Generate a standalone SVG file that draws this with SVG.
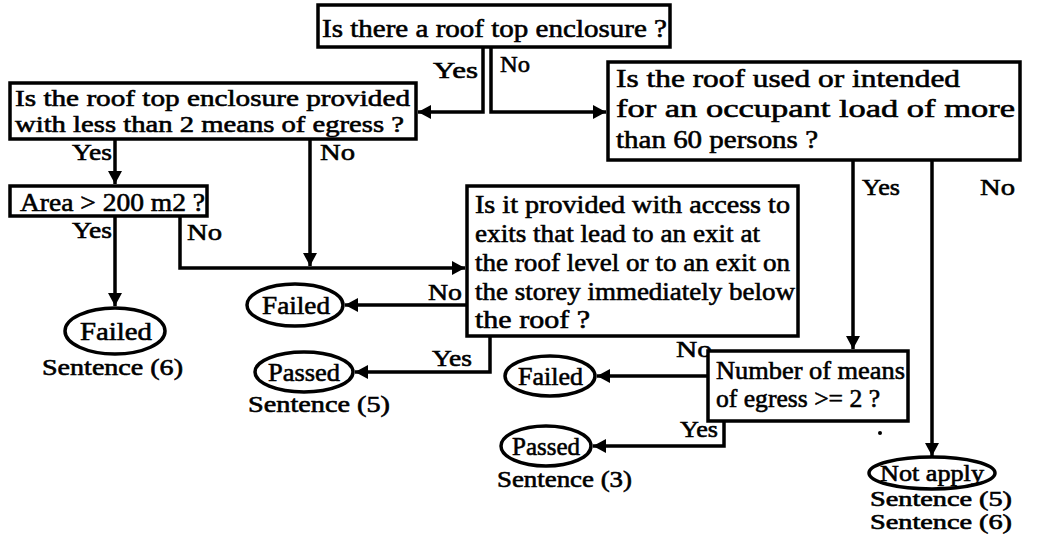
<svg xmlns="http://www.w3.org/2000/svg" width="1043" height="535" viewBox="0 0 1043 535">
  <style>
    .box { fill: #fff; stroke: #000; stroke-width: 3.5; }
    .term { fill: #fff; stroke: #000; stroke-width: 3.5; }
    .t { font-family: "Liberation Serif", "Times New Roman", serif; font-size: 26px; fill: #000; stroke: #000; stroke-width: 0.6; }
    .lbl { font-family: "Liberation Serif", "Times New Roman", serif; font-size: 24px; fill: #000; stroke: #000; stroke-width: 0.6; }
    .sen { font-family: "Liberation Serif", "Times New Roman", serif; font-size: 23px; fill: #000; stroke: #000; stroke-width: 0.6; }
    .wire { fill: none; stroke: #000; stroke-width: 3.5; marker-end: url(#arrow); }
  </style>
  <defs>
    <marker id="arrow" markerUnits="userSpaceOnUse" markerWidth="14" markerHeight="14" refX="13" refY="7" orient="auto">
      <path d="M0,0 L13,7 L0,14 z" fill="#000"/>
    </marker>
  </defs>

  <rect width="1043" height="535" fill="#fff"/>

  <!-- connectors -->
  <g id="connectors">
    <path class="wire" d="M483,47 V112 H418"/>
    <path class="wire" d="M491,47 V112 H606"/>
    <path class="wire" d="M115,139 V184"/>
    <path class="wire" d="M310,139 V266"/>
    <path class="wire" d="M115,216 V306"/>
    <path class="wire" d="M180,216 V268 H465"/>
    <path class="wire" d="M467,305 H345"/>
    <path class="wire" d="M490,336 V372 H355"/>
    <path class="wire" d="M853,160 V349"/>
    <path class="wire" d="M932,160 V456"/>
    <path class="wire" d="M708,376 H597"/>
    <path class="wire" d="M724,421 V446 H593"/>

    <text class="lbl" x="433" y="78" textLength="45" lengthAdjust="spacingAndGlyphs">Yes</text>
    <text class="lbl" x="500" y="72" textLength="30" lengthAdjust="spacingAndGlyphs">No</text>
    <text class="lbl" x="72" y="160" textLength="40" lengthAdjust="spacingAndGlyphs">Yes</text>
    <text class="lbl" x="320" y="160" textLength="35" lengthAdjust="spacingAndGlyphs">No</text>
    <text class="lbl" x="72" y="238" textLength="40" lengthAdjust="spacingAndGlyphs">Yes</text>
    <text class="lbl" x="187" y="240" textLength="35" lengthAdjust="spacingAndGlyphs">No</text>
    <text class="lbl" x="428" y="300" textLength="34" lengthAdjust="spacingAndGlyphs">No</text>
    <text class="lbl" x="432" y="366" textLength="40" lengthAdjust="spacingAndGlyphs">Yes</text>
    <text class="lbl" x="862" y="195" textLength="38" lengthAdjust="spacingAndGlyphs">Yes</text>
    <text class="lbl" x="980" y="195" textLength="35" lengthAdjust="spacingAndGlyphs">No</text>
    <text class="lbl" x="676" y="357" textLength="36" lengthAdjust="spacingAndGlyphs">No</text>
    <text class="lbl" x="680" y="437" textLength="38" lengthAdjust="spacingAndGlyphs">Yes</text>
  </g>

  <!-- decision: roof top enclosure present -->
  <g id="q-enclosure">
    <rect class="box" x="318" y="5" width="352" height="42"/>
    <text class="t" x="322" y="37" textLength="345" lengthAdjust="spacingAndGlyphs">Is there a roof top enclosure ?</text>
  </g>

  <!-- decision: fewer than 2 means of egress -->
  <g id="q-egress-count">
    <rect class="box" x="10" y="83" width="406" height="56"/>
    <text class="t" x="15" y="106" textLength="395" lengthAdjust="spacingAndGlyphs" style="font-size:24px">Is the roof top enclosure provided</text>
    <text class="t" x="15" y="132" textLength="389" lengthAdjust="spacingAndGlyphs" style="font-size:24px">with less than 2 means of egress ?</text>
  </g>

  <!-- decision: occupant load -->
  <g id="q-occupant-load">
    <rect class="box" x="608" y="62" width="412" height="98"/>
    <text class="t" x="616" y="87" textLength="344" lengthAdjust="spacingAndGlyphs">Is the roof used or intended</text>
    <text class="t" x="616" y="117" textLength="399" lengthAdjust="spacingAndGlyphs">for an occupant load of more</text>
    <text class="t" x="616" y="148" textLength="202" lengthAdjust="spacingAndGlyphs">than 60 persons ?</text>
  </g>

  <!-- decision: area -->
  <g id="q-area">
    <rect class="box" x="10" y="186" width="197" height="30"/>
    <text class="t" x="20" y="211" textLength="185" lengthAdjust="spacingAndGlyphs">Area &gt; 200 m2 ?</text>
  </g>

  <!-- decision: access to exits -->
  <g id="q-exit-access">
    <rect class="box" x="467" y="186" width="331" height="150"/>
    <text class="t" x="475" y="213" textLength="315" lengthAdjust="spacingAndGlyphs">Is it provided with access to</text>
    <text class="t" x="475" y="242" textLength="285" lengthAdjust="spacingAndGlyphs">exits that lead to an exit at</text>
    <text class="t" x="475" y="271" textLength="315" lengthAdjust="spacingAndGlyphs">the roof level or to an exit on</text>
    <text class="t" x="475" y="300" textLength="320" lengthAdjust="spacingAndGlyphs">the storey immediately below</text>
    <text class="t" x="475" y="328" textLength="115" lengthAdjust="spacingAndGlyphs">the roof ?</text>
  </g>

  <!-- decision: means of egress >= 2 -->
  <g id="q-means">
    <rect class="box" x="708" y="351" width="200" height="70"/>
    <text class="t" x="716" y="379" textLength="189" lengthAdjust="spacingAndGlyphs">Number of means</text>
    <text class="t" x="716" y="407" textLength="164" lengthAdjust="spacingAndGlyphs">of egress &gt;= 2 ?</text>
  </g>

  <!-- outcomes -->
  <g id="r-failed-area">
    <ellipse class="term" cx="115" cy="331" rx="50" ry="23"/>
    <text class="t" x="80" y="340" textLength="72" lengthAdjust="spacingAndGlyphs">Failed</text>
    <text class="sen" x="42" y="375" textLength="141" lengthAdjust="spacingAndGlyphs">Sentence (6)</text>
  </g>

  <g id="r-failed-access">
    <ellipse class="term" cx="295" cy="305" rx="48" ry="21"/>
    <text class="t" x="262" y="314" textLength="68" lengthAdjust="spacingAndGlyphs">Failed</text>
  </g>

  <g id="r-passed-access">
    <ellipse class="term" cx="304" cy="372" rx="49" ry="20"/>
    <text class="t" x="268" y="381" textLength="72" lengthAdjust="spacingAndGlyphs">Passed</text>
    <text class="sen" x="248" y="412" textLength="142" lengthAdjust="spacingAndGlyphs">Sentence (5)</text>
  </g>

  <g id="r-failed-means">
    <ellipse class="term" cx="550" cy="376" rx="45" ry="20"/>
    <text class="t" x="518" y="385" textLength="65" lengthAdjust="spacingAndGlyphs">Failed</text>
  </g>

  <g id="r-passed-means">
    <ellipse class="term" cx="546" cy="446" rx="45" ry="20"/>
    <text class="t" x="512" y="455" textLength="68" lengthAdjust="spacingAndGlyphs">Passed</text>
    <text class="sen" x="497" y="487" textLength="135" lengthAdjust="spacingAndGlyphs">Sentence (3)</text>
  </g>

  <g id="r-not-apply">
    <ellipse class="term" cx="932" cy="473" rx="63" ry="16"/>
    <text class="t" x="880" y="481" textLength="104" lengthAdjust="spacingAndGlyphs" style="font-size:23px">Not apply</text>
    <text class="sen" x="870" y="506" textLength="142" lengthAdjust="spacingAndGlyphs" style="font-size:20px">Sentence (5)</text>
    <text class="sen" x="870" y="529" textLength="142" lengthAdjust="spacingAndGlyphs" style="font-size:20px">Sentence (6)</text>
  </g>

  <circle cx="880" cy="433" r="2" fill="#000"/>
</svg>
